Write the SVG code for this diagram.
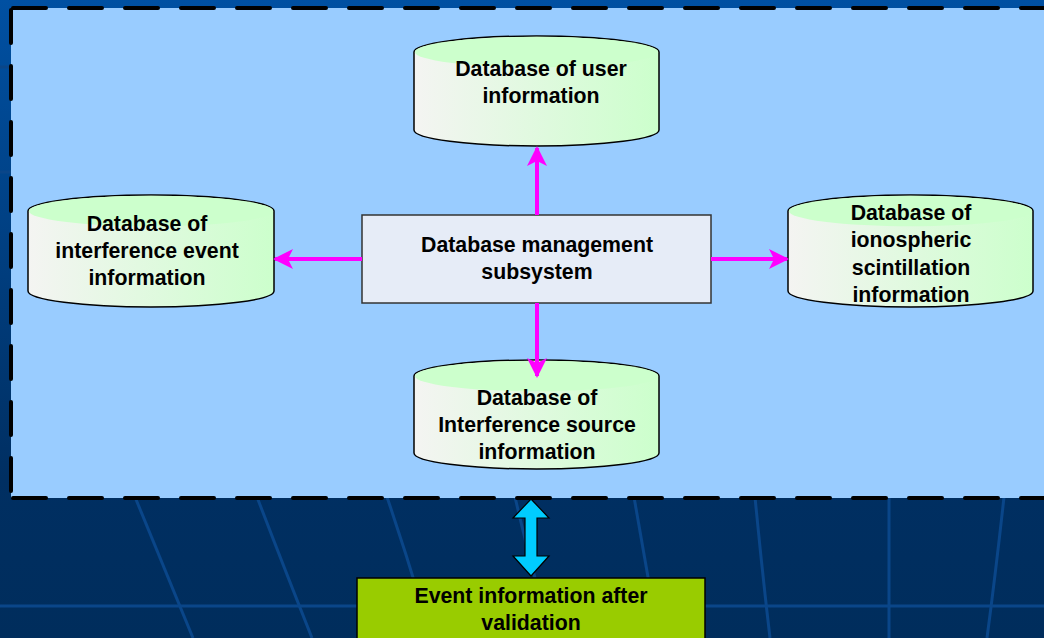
<svg xmlns="http://www.w3.org/2000/svg" width="1044" height="638" viewBox="0 0 1044 638">
  <defs>
    <linearGradient id="bg" x1="0" y1="0" x2="0" y2="1">
      <stop offset="0" stop-color="#0050a2"/>
      <stop offset="0.75" stop-color="#002f62"/>
      <stop offset="1" stop-color="#002d5c"/>
    </linearGradient>
    <linearGradient id="cyl" x1="0" y1="0" x2="1" y2="0">
      <stop offset="0" stop-color="#f4f4f2"/>
      <stop offset="1" stop-color="#ccffcc"/>
    </linearGradient>
    <marker id="mag" viewBox="0 0 10 10" refX="9" refY="5" markerWidth="5" markerHeight="5" orient="auto" markerUnits="strokeWidth">
      <path d="M0,0 L10,5 L0,10 L2.5,5 Z" fill="#ff00ff"/>
    </marker>
    <style>
      .bgl { stroke: #0a4689; stroke-width: 3; fill: none; }
      .cylbody { fill: url(#cyl); stroke: #000; stroke-width: 1.5; }
      .cyltop { fill: #ccffcc; stroke: none; }
      .txt { font-family: "Liberation Sans", Arial, sans-serif; font-weight: bold; font-size: 21.3px; fill: #000; text-anchor: middle; }
      .conn { stroke: #ff00ff; stroke-width: 4; fill: none; marker-end: url(#mag); }
    </style>
  </defs>

  <!-- background -->
  <rect x="0" y="0" width="1044" height="638" fill="url(#bg)"/>
  <g id="bg-lines">
    <path class="bgl" d="M0,606 H1044"/>
    <path class="bgl" d="M135,497 Q165,570 193,638"/>
    <path class="bgl" d="M257,497 Q285,570 312,638"/>
    <path class="bgl" d="M387,497 Q405,550 420,600"/>
    <path class="bgl" d="M515,497 Q525,540 535,578"/>
    <path class="bgl" d="M634,497 Q645,560 652,600"/>
    <path class="bgl" d="M755,497 Q762,570 770,638"/>
    <path class="bgl" d="M889,497 V638"/>
    <path class="bgl" d="M1004,497 Q996,570 987,638"/>
    <path class="bgl" d="M0,67 H11 M0,172 H11"/>
  </g>

  <!-- panel -->
  <g id="panel">
    <rect x="11" y="8" width="1060" height="490" fill="#99ccff"/>
    <path d="M11,8 H1060 M11,498 H1060 M11,8 V498" fill="none" stroke="#000" stroke-width="4" stroke-linecap="round" stroke-dasharray="33 23" stroke-dashoffset="-2"/>
  </g>

  <!-- nodes -->
  <g id="db-user">
    <path class="cylbody" d="M414,52 A122.5,16 0 0 1 659,52 V130 A122.5,16 0 0 1 414,130 Z"/>
    <path class="cyltop" d="M414.8,52 A121.7,15.2 0 0 1 658.2,52 A121.7,15.2 0 0 1 414.8,52 Z"/>
    <text class="txt" x="541" y="76">Database of user</text>
    <text class="txt" x="541" y="103">information</text>
  </g>

  <g id="db-interference-event">
    <path class="cylbody" d="M28,211 A123,16 0 0 1 274,211 V291 A123,16 0 0 1 28,291 Z"/>
    <path class="cyltop" d="M28.8,211 A122.2,15.2 0 0 1 273.2,211 A122.2,15.2 0 0 1 28.8,211 Z"/>
    <text class="txt" x="147" y="231">Database of</text>
    <text class="txt" x="147" y="258">interference event</text>
    <text class="txt" x="147" y="285">information</text>
  </g>

  <g id="db-ionospheric">
    <path class="cylbody" d="M788,211 A122.5,16 0 0 1 1033,211 V291 A122.5,16 0 0 1 788,291 Z"/>
    <path class="cyltop" d="M788.8,211 A121.7,15.2 0 0 1 1032.2,211 A121.7,15.2 0 0 1 788.8,211 Z"/>
    <text class="txt" x="911" y="220">Database of</text>
    <text class="txt" x="911" y="247">ionospheric</text>
    <text class="txt" x="911" y="275">scintillation</text>
    <text class="txt" x="911" y="302">information</text>
  </g>

  <g id="db-interference-source">
    <path class="cylbody" d="M414,376 A122.5,16 0 0 1 659,376 V453 A122.5,16 0 0 1 414,453 Z"/>
    <path class="cyltop" d="M414.8,376 A121.7,15.2 0 0 1 658.2,376 A121.7,15.2 0 0 1 414.8,376 Z"/>
    <text class="txt" x="537" y="405">Database of</text>
    <text class="txt" x="537" y="432">Interference source</text>
    <text class="txt" x="537" y="459">information</text>
  </g>

  <g id="dbms">
    <rect x="362" y="215" width="349" height="88" fill="#e6ecf7" stroke="#333" stroke-width="1.5"/>
    <text class="txt" x="537" y="252">Database management</text>
    <text class="txt" x="537" y="279">subsystem</text>
  </g>

  <g id="event-info">
    <rect x="357" y="578" width="348" height="70" fill="#99cc00" stroke="#000" stroke-width="1.5"/>
    <text class="txt" x="531" y="603">Event information after</text>
    <text class="txt" x="531" y="630">validation</text>
  </g>

  <!-- connectors -->
  <g id="connectors">
    <line class="conn" x1="537" y1="215" x2="537" y2="148"/>
    <line class="conn" x1="362" y1="259" x2="275" y2="259"/>
    <line class="conn" x1="711" y1="259" x2="787" y2="259"/>
    <line class="conn" x1="537" y1="303" x2="537" y2="376"/>
    <path d="M531,499 L549,518 L537,518 L537,556 L549,556 L531,576 L513,556 L525,556 L525,518 L513,518 Z" fill="#00ccff" stroke="#000" stroke-width="1.2"/>
  </g>
</svg>
